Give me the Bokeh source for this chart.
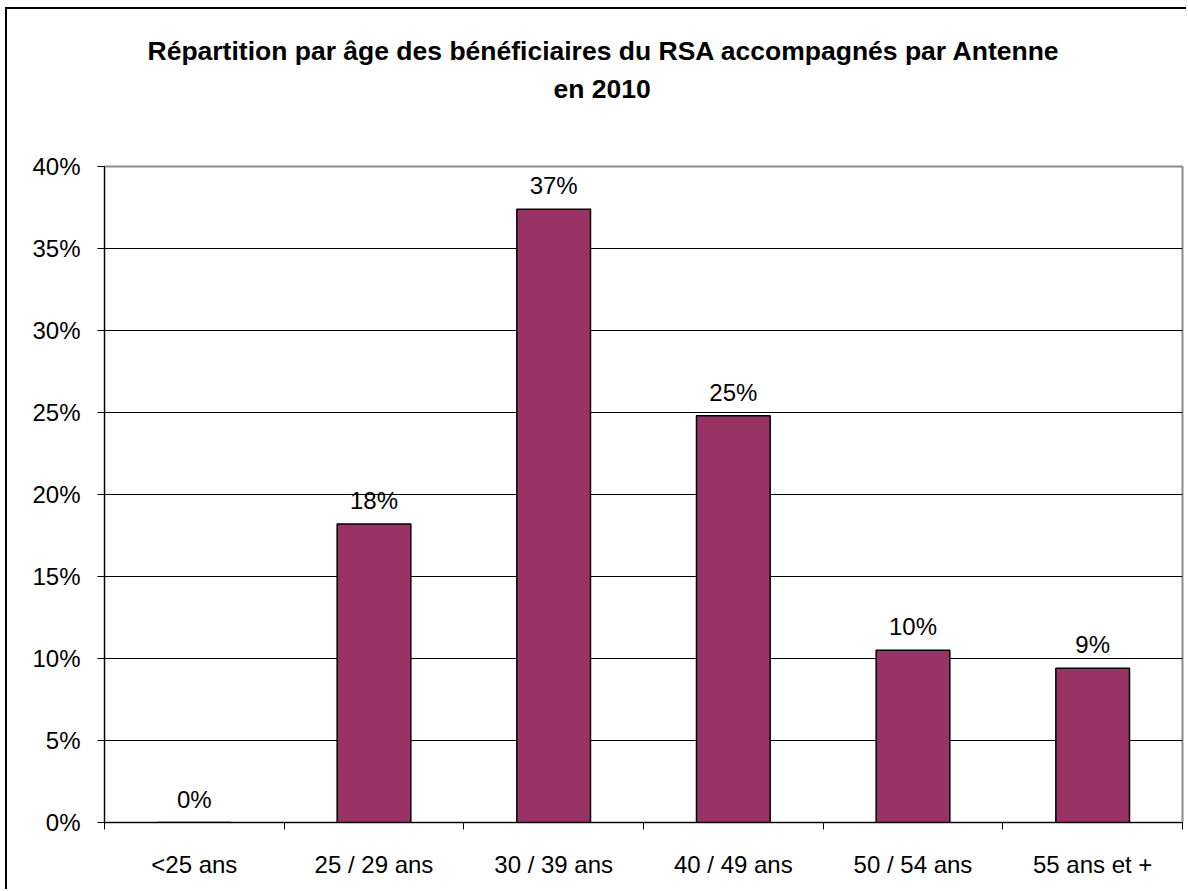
from bokeh.plotting import figure
from bokeh.models import (ColumnDataSource, Range1d, FixedTicker, NumeralTickFormatter,
                          LabelSet, Title)
from bokeh.core.properties import value
from bokeh.embed import file_html
from bokeh.resources import INLINE

categories = ["<25 ans", "25 / 29 ans", "30 / 39 ans", "40 / 49 ans", "50 / 54 ans", "55 ans et +"]
values = [0.0, 0.182, 0.374, 0.248, 0.105, 0.094]
value_labels = ["0%", "18%", "37%", "25%", "10%", "9%"]
y_ticks = [0.0, 0.05, 0.10, 0.15, 0.20, 0.25, 0.30, 0.35, 0.40]
title_lines = ["Répartition par âge des bénéficiaires du RSA accompagnés par Antenne", "en 2010"]

FONT = "Liberation Sans"

xs = [i + 0.5 for i in range(len(categories))]
src = ColumnDataSource(dict(x=xs, top=values, lab=value_labels))

p = figure(width=1181, height=882, output_backend="svg", toolbar_location=None,
           x_range=Range1d(0, len(categories)), y_range=Range1d(0, 0.40),
           min_border_left=97, min_border_right=6, min_border_top=157, min_border_bottom=69)
p.styles = {"border-left": "2px solid black", "border-top": "2px solid black",
            "margin-left": "5px", "margin-top": "7px"}
p.background_fill_color = "white"
p.border_fill_color = "white"
p.outline_line_color = "#8c8c8c"
p.outline_line_width = 2

p.vbar(x="x", top="top", width=0.41, bottom=0, source=src,
       fill_color="#993366", line_color="black", line_width=1.5)

# y axis
p.yaxis.ticker = FixedTicker(ticks=y_ticks)
p.yaxis.formatter = NumeralTickFormatter(format="0%")
p.yaxis.major_label_text_font = FONT
p.yaxis.major_label_text_font_size = "24px"
p.yaxis.major_label_text_color = "black"
p.yaxis.major_tick_out = 7
p.yaxis.major_tick_in = 0
p.yaxis.minor_tick_line_color = None
p.yaxis.axis_line_color = "black"
p.yaxis.major_tick_line_color = "black"
p.yaxis.major_label_standoff = 17

# x axis
p.xaxis.ticker = FixedTicker(ticks=xs, minor_ticks=list(range(len(categories) + 1)))
p.xaxis.major_label_overrides = {x: c for x, c in zip(xs, categories)}
p.xaxis.major_tick_line_color = None
p.xaxis.minor_tick_line_color = "black"
p.xaxis.minor_tick_out = 7
p.xaxis.minor_tick_in = 0
p.xaxis.axis_line_color = "black"
p.xaxis.major_label_text_font = FONT
p.xaxis.major_label_text_font_size = "24px"
p.xaxis.major_label_text_color = "black"
p.xaxis.major_label_standoff = 21

p.xgrid.grid_line_color = None
p.ygrid.ticker = FixedTicker(ticks=y_ticks)
p.ygrid.grid_line_color = "black"
p.ygrid.grid_line_width = 1

labels = LabelSet(x="x", y="top", text="lab", source=src, text_align="center",
                  text_baseline="alphabetic", y_offset=15, text_font_size="24px",
                  text_font=value(FONT), text_color="black")
p.add_layout(labels)

# title: spacer (closest to frame), then line 2, then line 1
p.title.visible = False
spacer = Title(text=" ", standoff=31, text_font=FONT, text_font_size="26px")
t2 = Title(text=title_lines[1], align="left", offset=449, standoff=0,
           text_font=FONT, text_font_style="bold", text_font_size="26.5px", text_color="black")
t1 = Title(text=title_lines[0], align="left", offset=43, standoff=12,
           text_font=FONT, text_font_style="bold", text_font_size="26.5px", text_color="black")
p.add_layout(spacer, "above")
p.add_layout(t2, "above")
p.add_layout(t1, "above")

open("out.html", "w").write(file_html(p, INLINE))
